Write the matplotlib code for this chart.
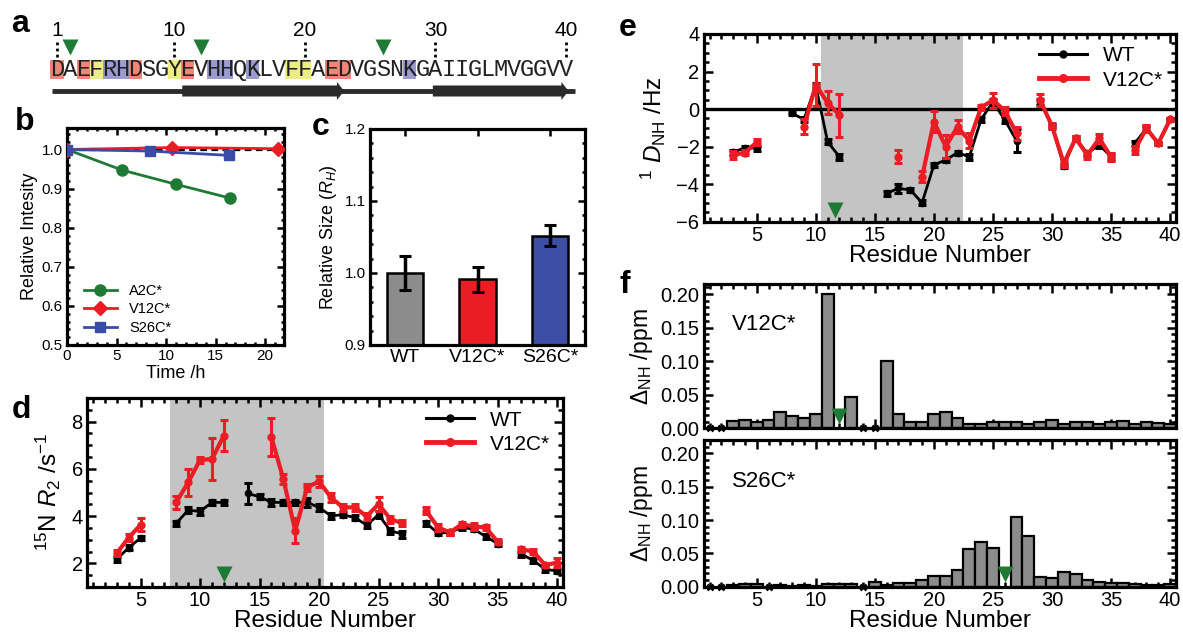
import numpy as np
import matplotlib
matplotlib.use("Agg")
import matplotlib.pyplot as plt
from matplotlib.patches import Rectangle, Polygon
from matplotlib.lines import Line2D
from matplotlib.ticker import MultipleLocator, FormatStrFormatter

plt.rcParams['font.family'] = ['Liberation Sans', 'DejaVu Sans']
plt.rcParams['mathtext.fontset'] = 'custom'
plt.rcParams['mathtext.rm'] = 'Liberation Sans'
plt.rcParams['mathtext.it'] = 'Liberation Sans:italic'
plt.rcParams['mathtext.bf'] = 'Liberation Sans:bold'

nan = np.nan

# --- a: sequence ---
sequence = "DAEFRHDSGYEVHHQKLVFFAEDVGSNKGAIIGLMVGGVV"
acidic = [1, 3, 7, 11, 22, 23]
aromatic = [4, 10, 19, 20]
basic = [5, 6, 13, 14, 16, 28]
label_sites = [2, 12, 26]
numbered = [1, 10, 20, 30, 40]
strands = [(10.6, 23.0), (29.8, 40.2)]

# --- b: intensity over time ---
time_a2c = [0, 5.6, 11.0, 16.4]
int_a2c = [1.0, 0.947, 0.911, 0.876]
time_v12c = [0, 10.6, 21.3]
int_v12c = [1.0, 1.005, 1.002]
time_s26c = [0, 8.4, 16.3]
int_s26c = [1.0, 0.996, 0.985]

# --- c: hydrodynamic size ---
variants = ["WT", "V12C*", "S26C*"]
size_rel = [1.0, 0.991, 1.052]
size_err = [0.024, 0.018, 0.015]

# --- d: 15N R2 ---
residues = np.arange(1, 41)
r2_wt = [nan, nan, 2.17, 2.67, 3.07, nan, nan, 3.70, 4.25, 4.20,
         4.58, 4.58, nan, 4.96, 4.82, 4.58, 4.58, 4.58, 4.58, 4.37,
         4.01, 4.06, 3.94, 3.62, 4.06, 3.38, 3.24, nan, 3.70, 3.28,
         3.31, 3.52, 3.45, 3.14, 2.84, nan, 2.39, 2.13, 1.75, 1.68]
r2_wt_err = [0, 0, 0.1, 0.1, 0.1, 0, 0, 0.1, 0.12, 0.15,
             0.12, 0.1, 0, 0.45, 0.1, 0.15, 0.1, 0.1, 0.2, 0.15,
             0.12, 0.1, 0.12, 0.12, 0.15, 0.12, 0.15, 0, 0.1, 0.1,
             0.1, 0.1, 0.1, 0.1, 0.1, 0, 0.1, 0.1, 0.1, 0.1]
r2_v12c = [nan, nan, 2.43, 3.09, 3.63, nan, nan, 4.58, 5.43, 6.38,
           6.41, 7.41, nan, nan, nan, 7.34, 5.57, 3.38, 5.22, 5.47,
           4.79, 4.37, 4.37, 3.99, 4.51, 3.87, 3.70, nan, 4.23, 3.52,
           3.31, 3.66, 3.56, 3.52, 2.92, nan, 2.60, 2.50, 1.93, 2.03]
r2_v12c_err = [0, 0, 0.12, 0.15, 0.28, 0, 0, 0.28, 0.57, 0.12,
               0.9, 0.67, 0, 0, 0, 0.8, 0.22, 0.52, 0.15, 0.22,
               0.2, 0.15, 0.15, 0.15, 0.28, 0.15, 0.12, 0, 0.15, 0.15,
               0.1, 0.1, 0.15, 0.12, 0.1, 0, 0.1, 0.1, 0.1, 0.2]

# --- e: 1D NH RDCs ---
dnh_wt = [nan, nan, -2.3, -2.06, -2.09, nan, nan, -0.23, -0.55, 1.25,
          -1.74, -2.54, nan, nan, nan, -4.49, -4.22, -4.31, -4.99, -2.98,
          -2.71, -2.32, -2.54, -0.55, 0.39, -0.58, -1.68, nan, 0.39, -0.90,
          -3.03, -1.56, -2.36, -1.9, -2.54, nan, -1.83, -1.03, -1.83, -0.55]
dnh_wt_err = [0, 0, 0.12, 0.1, 0.12, 0, 0, 0.1, 0.12, 0.15,
              0.12, 0.15, 0, 0, 0, 0.15, 0.25, 0.1, 0.12, 0.12,
              0.1, 0.1, 0.15, 0.15, 0.15, 0.15, 0.6, 0, 0.15, 0.12,
              0.1, 0.1, 0.15, 0.15, 0.15, 0, 0.12, 0.12, 0.1, 0.1]
dnh_v12c = [nan, nan, -2.45, -2.32, -1.77, nan, nan, nan, -0.94, 1.28,
            0.34, -0.32, nan, nan, nan, nan, -2.54, nan, -3.60, -0.67,
            -2.00, -0.94, -1.7, 0.09, 0.48, -0.09, -1.29, nan, 0.48, -0.90,
            -2.89, -1.56, -2.45, -1.56, -2.54, nan, -2.18, -1.03, -1.83, -0.55]
dnh_v12c_err = [0, 0, 0.2, 0.15, 0.15, 0, 0, 0, 0.4, 1.1,
                0.6, 1.15, 0, 0, 0, 0, 0.35, 0, 0.3, 0.55,
                0.6, 0.35, 0.4, 0.15, 0.4, 0.2, 0.35, 0, 0.3, 0.15,
                0.2, 0.12, 0.2, 0.25, 0.2, 0, 0.2, 0.2, 0.1, 0.1]

# --- f: chemical shift perturbations ---
csp_v12c = [nan, nan, 0.011, 0.012, 0.010, 0.013, 0.025, 0.018, 0.015, 0.021,
            0.200, nan, 0.046, nan, nan, 0.100, 0.021, 0.009, 0.009, 0.021,
            0.025, 0.016, 0.006, 0.007, 0.010, 0.009, 0.009, 0.006, 0.009, 0.012,
            0.006, 0.009, 0.009, 0.007, 0.010, 0.011, 0.006, 0.010, 0.008, 0.006]
unassigned_v12c = [1, 2, 14, 15]
csp_s26c = [nan, nan, 0.0025, 0.004, 0.004, nan, 0.0025, 0.0015, 0.0025, 0.0015,
            0.0035, 0.0035, 0.004, nan, 0.007, 0.0025, 0.006, 0.006, 0.010, 0.0165,
            0.0165, 0.025, 0.056, 0.0665, 0.0585, nan, 0.105, 0.076, 0.015, 0.0135,
            0.0215, 0.019, 0.010, 0.0065, 0.006, 0.0055, 0.0035, 0.0025, 0.003, 0.0035]
unassigned_s26c = [1, 2, 6, 14]

GREEN = '#1f7a35'
RED = '#ec1c24'
BLUE = '#3a4da6'
GRAY_BAR = '#8c8c8c'
SHADE = '#c4c4c4'

W, H = 1183, 637
fig = plt.figure(figsize=(W / 100, H / 100), dpi=100)


def px_axes(x0, y0, x1, y1):
    return fig.add_axes([x0 / W, 1 - y1 / H, (x1 - x0) / W, (y1 - y0) / H])


def frame(ax, labelsize, major=6.5, minor=3.5):
    for s in ax.spines.values():
        s.set_linewidth(2.3)
    ax.tick_params(which='both', direction='in', top=True, right=True,
                   width=1.8, labelsize=labelsize, pad=3)
    ax.tick_params(which='major', length=major)
    ax.tick_params(which='minor', length=minor)


def panel_label(x, y, s):
    fig.text(x / W, 1 - y / H, s, fontsize=23, fontweight='bold',
             ha='center', va='center')


# ---------------- a ----------------
ax_a = px_axes(30, 0, 600, 110)
to_res = lambda p: 1 + (p - 57) / 13.05
ax_a.set_xlim(to_res(30), to_res(600))
ax_a.set_ylim(110, 0)
ax_a.axis('off')
box_colors = {}
for r in acidic:
    box_colors[r] = '#ef8677'
for r in aromatic:
    box_colors[r] = '#eded86'
for r in basic:
    box_colors[r] = '#9b9bd2'
for i, ch in enumerate(sequence, start=1):
    if i in box_colors:
        ax_a.add_patch(Rectangle((i - 0.5, 59.5), 1, 19.5, color=box_colors[i], lw=0))
    ax_a.text(i, 69.5, ch, family='Liberation Mono', fontsize=17,
              ha='center', va='center', color='#222222')
for n in numbered:
    ax_a.text(n, 31, str(n), fontsize=15, ha='center', va='center')
    ax_a.plot([n, n], [42, 58], ls=(0, (1, 1.2)), lw=2, color='k')
ax_a.plot(label_sites, [47] * len(label_sites), 'v', ms=12, color=GREEN, mec='none')
ax_a.plot([to_res(52), to_res(575)], [91, 91], lw=3.5, color='#2b2b2b',
          solid_capstyle='butt')
head = 0.55
for s0, s1 in strands:
    ax_a.add_patch(Polygon([(s0, 85.5), (s1 - head, 85.5), (s1 - head, 82),
                            (s1, 91), (s1 - head, 100), (s1 - head, 96.5),
                            (s0, 96.5)], closed=True, color='#2b2b2b', lw=0))
panel_label(20, 24, 'a')

# ---------------- b ----------------
ax_b = px_axes(67, 128, 284, 345)
ax_b.axhline(1.0, ls=(0, (3, 2)), color='k', lw=1.6, zorder=1)
ax_b.plot(time_a2c, int_a2c, '-o', color=GREEN, lw=2, ms=8, label='A2C*', zorder=3)
ax_b.plot(time_v12c, int_v12c, '-D', color=RED, lw=2, ms=7.5, label='V12C*', zorder=3)
ax_b.plot(time_s26c, int_s26c, '-s', color=BLUE, lw=2, ms=7.5, label='S26C*', zorder=3)
ax_b.set_xlim(0, 21.9)
ax_b.set_ylim(0.5, 1.055)
ax_b.xaxis.set_major_locator(MultipleLocator(5))
ax_b.xaxis.set_minor_locator(MultipleLocator(1))
ax_b.yaxis.set_major_locator(MultipleLocator(0.1))
ax_b.yaxis.set_minor_locator(MultipleLocator(0.02))
ax_b.yaxis.set_major_formatter(FormatStrFormatter('%.1f'))
frame(ax_b, 11, major=5, minor=2.5)
ax_b.set_xlabel('Time /h', fontsize=13, labelpad=1)
ax_b.set_ylabel('Relative Intesity', fontsize=13, labelpad=3)
ax_b.legend(loc='lower left', frameon=False, fontsize=10.5, handlelength=2.3,
            borderaxespad=0.3, labelspacing=0.3, bbox_to_anchor=(0.03, 0.0))
panel_label(25, 122, 'b')

# ---------------- c ----------------
ax_c = px_axes(370, 129, 585, 345)
xc = np.arange(len(variants))
ax_c.bar(xc, size_rel, width=0.5, color=['#8c8c8c', RED, '#3d4ea6'],
         edgecolor='k', lw=1.8, zorder=2)
ax_c.errorbar(xc, size_rel, yerr=size_err, fmt='none', ecolor='k',
              elinewidth=2.5, capsize=4, capthick=2.2, zorder=3)
ax_c.set_xlim(-0.48, 2.48)
ax_c.set_ylim(0.9, 1.2)
ax_c.set_xticks(xc)
ax_c.set_xticklabels(variants, fontsize=14)
ax_c.yaxis.set_major_locator(MultipleLocator(0.1))
ax_c.yaxis.set_minor_locator(MultipleLocator(0.02))
ax_c.yaxis.set_major_formatter(FormatStrFormatter('%.1f'))
frame(ax_c, 11, major=5, minor=2.5)
ax_c.tick_params(axis='x', labelsize=14)
ax_c.set_ylabel('Relative Size ($R_H$)', fontsize=13, labelpad=4)
panel_label(321, 127, 'c')


# ---------------- d / e helpers ----------------
def residue_axis(ax, ylabel):
    ax.set_xlim(0.5, 40.5)
    ax.xaxis.set_minor_locator(MultipleLocator(1))
    ax.set_xticks([5, 10, 15, 20, 25, 30, 35, 40])
    frame(ax, 14.5)
    ax.set_xlabel('Residue Number', fontsize=17.5, labelpad=0)
    ax.set_ylabel(ylabel, fontsize=17.5, labelpad=6)


def series(ax, y, yerr, color, lw, ms, z):
    ax.errorbar(residues, y, yerr=yerr, color=color, lw=lw, marker='o', ms=ms,
                elinewidth=2.2, capsize=3.2, capthick=2.2, zorder=z)


def wt_mut_legend(ax):
    handles = [Line2D([], [], color='k', lw=2.2, marker='o', ms=5),
               Line2D([], [], color=RED, lw=3.5, marker='o', ms=5.5)]
    ax.legend(handles, ['WT', 'V12C*'], loc='upper right', frameon=False,
              fontsize=15, handlelength=2.3, borderaxespad=0.2, labelspacing=0.25)


# ---------------- d ----------------
ax_d = px_axes(87, 398, 563, 587)
ax_d.axvspan(7.45, 20.45, color=SHADE, lw=0, zorder=0)
series(ax_d, r2_wt, r2_wt_err, 'k', 2.0, 4.5, 3)
series(ax_d, r2_v12c, r2_v12c_err, RED, 3.0, 5, 4)
ax_d.plot(12, 1.55, 'v', ms=12, color=GREEN, mec='none', zorder=5)
ax_d.set_ylim(1, 9)
ax_d.yaxis.set_major_locator(MultipleLocator(2))
ax_d.yaxis.set_minor_locator(MultipleLocator(0.5))
residue_axis(ax_d, r'$^{15}$N $R_2$ /s$^{-1}$')
wt_mut_legend(ax_d)
panel_label(21, 410, 'd')

# ---------------- e ----------------
ax_e = px_axes(703.6, 34, 1176, 221.7)
ax_e.axvspan(10.45, 22.45, color=SHADE, lw=0, zorder=0)
ax_e.axhline(0, color='k', lw=2.4, zorder=1)
series(ax_e, dnh_wt, dnh_wt_err, 'k', 2.0, 4.5, 3)
series(ax_e, dnh_v12c, dnh_v12c_err, RED, 3.0, 5, 4)
ax_e.plot(11.6, -5.4, 'v', ms=12, color=GREEN, mec='none', zorder=5)
ax_e.set_ylim(-6, 4)
ax_e.yaxis.set_major_locator(MultipleLocator(2))
ax_e.yaxis.set_minor_locator(MultipleLocator(0.5))
residue_axis(ax_e, r'$^{1}\ D_{\mathrm{NH}}$ /Hz')
wt_mut_legend(ax_e)
panel_label(628, 28, 'e')


# ---------------- f ----------------
def csp_axis(ax, values, unassigned, site, name, top_lim):
    ax.bar(residues, values, width=1, color=GRAY_BAR, edgecolor='k', lw=1.6, zorder=2)
    ax.plot(unassigned, [0] * len(unassigned), 'x', color='k', ms=5, mew=1.8,
            clip_on=False, zorder=4)
    ax.plot(site, 0.019, 'v', ms=12, color=GREEN, mec='none', zorder=5)
    ax.set_xlim(0.5, 40.5)
    ax.set_ylim(0, top_lim)
    ax.set_xticks([5, 10, 15, 20, 25, 30, 35, 40])
    ax.xaxis.set_minor_locator(MultipleLocator(1))
    ax.yaxis.set_major_locator(MultipleLocator(0.05))
    ax.yaxis.set_minor_locator(MultipleLocator(0.01))
    ax.yaxis.set_major_formatter(FormatStrFormatter('%.2f'))
    frame(ax, 14.5)
    ax.set_ylabel(r'$\Delta_{\mathrm{NH}}$ /ppm', fontsize=16.5, labelpad=4)
    ax.text(0.06, 0.72, name, transform=ax.transAxes, fontsize=16, ha='left',
            va='center')


ax_f1 = px_axes(703.6, 284, 1176, 428.3)
csp_axis(ax_f1, csp_v12c, unassigned_v12c, 12, 'V12C*', 0.215)
ax_f1.tick_params(axis='x', labelbottom=False)

ax_f2 = px_axes(703.6, 440, 1176, 586.7)
csp_axis(ax_f2, csp_s26c, unassigned_s26c, 26, 'S26C*', 0.22)
ax_f2.set_xlabel('Residue Number', fontsize=17.5, labelpad=0)
panel_label(625, 285, 'f')

fig.savefig('out.png', dpi=100)
